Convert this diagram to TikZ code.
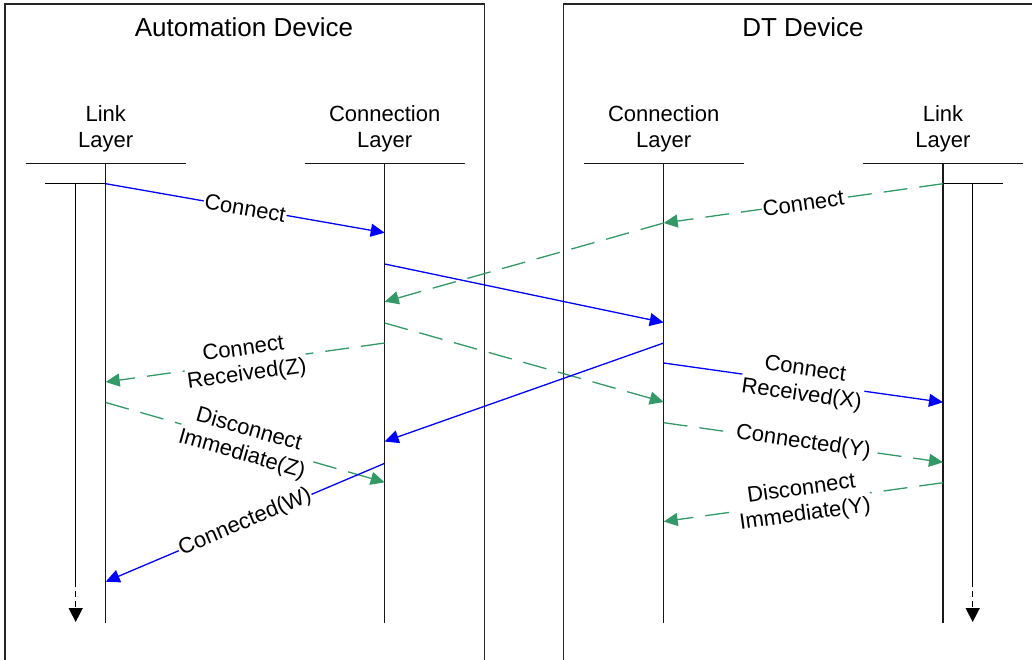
\documentclass[tikz,border=0pt]{standalone}
\usepackage{fontspec}
\setmainfont{Liberation Sans}
\usetikzlibrary{arrows.meta}
\definecolor{msgblue}{RGB}{0,0,255}
\definecolor{msggreen}{RGB}{51,153,102}
\begin{document}
\begin{tikzpicture}[x=1pt,y=-1pt,
  frame/.style={draw=black!85, line width=1.2pt},
  lifeline/.style={draw=black!90, line width=1.4pt},
  hdr/.style={align=center, inner sep=0pt, font=\fontsize{22}{25.5}\selectfont},
  ttl/.style={inner sep=0pt, font=\fontsize{26}{30}\selectfont},
  msg/.style={line width=1.3pt, -{Triangle[length=14pt,width=13pt]}},
  sync/.style={msg, draw=msgblue},
  async/.style={msg, draw=msggreen, dash pattern=on 24pt off 12pt},
  lbl/.style={sloped, fill=white, inner sep=1pt, align=center, text=black, font=\fontsize{22}{25.5}\selectfont},
  timeaxis/.style={draw=black, line width=1.4pt},
]
\useasboundingbox (0,0) rectangle (1032,659);

% device frames
\draw[frame] (5,670) -- (5,4) -- (484.5,4) -- (484.5,670);
\draw[frame] (563.5,670) -- (563.5,4) -- (1045,4);
\node[ttl] (tA) at (244,27.5) {Automation Device};
\node[ttl] (tD) at (803,27.5) {DT Device};

% headers
\node[hdr] (hLA) at (105.7,129) {Link\\Layer};
\node[hdr] (hCA) at (384.7,129) {Connection\\Layer};
\node[hdr] (hCD) at (663.7,129) {Connection\\Layer};
\node[hdr] (hLD) at (943,129) {Link\\Layer};

\draw[lifeline] (25.7,163.7) -- (185.7,163.7);
\draw[lifeline] (304.7,163.7) -- (464.7,163.7);
\draw[lifeline] (583.7,163.7) -- (743.7,163.7);
\draw[lifeline] (862.7,163.7) -- (1023.3,163.7);

% lifelines
\coordinate (LAt) at (105.7,163.7); \coordinate (LAb) at (105.7,622.5);
\coordinate (CAt) at (384.7,163.7); \coordinate (CAb) at (384.7,622.5);
\coordinate (CDt) at (663.7,163.7); \coordinate (CDb) at (663.7,622.5);
\coordinate (LDt) at (943,163.7);   \coordinate (LDb) at (943,622.5);
\draw[lifeline] (LAt) -- (LAb);
\draw[lifeline] (CAt) -- (CAb);
\draw[lifeline] (CDt) -- (CDb);
\draw[lifeline] (LDt) -- (LDb);

% local time axes
\coordinate (TAs) at (45,183.7);   \coordinate (TAe) at (105.7,183.7);
\coordinate (TAt) at (75.7,183.7); \coordinate (TAm) at (75.7,581); \coordinate (TAb) at (75.7,622);
\draw[timeaxis] (TAs) -- (TAe);
\draw[timeaxis] (TAt) -- (TAm);
\draw[timeaxis, dash pattern=on 6pt off 4pt, -{Triangle[length=14pt,width=14pt]}] (TAm) -- (TAb);

\coordinate (TDs) at (943,183.7);   \coordinate (TDe) at (1003.3,183.7);
\coordinate (TDt) at (972.7,183.7); \coordinate (TDm) at (972.7,581); \coordinate (TDb) at (972.7,622);
\draw[timeaxis] (TDs) -- (TDe);
\draw[timeaxis] (TDt) -- (TDm);
\draw[timeaxis, dash pattern=on 6pt off 4pt, -{Triangle[length=14pt,width=14pt]}] (TDm) -- (TDb);

% message end points
\coordinate (m1a) at (105.7,183.7); \coordinate (m1b) at (384.7,232.7);
\coordinate (m2a) at (943,183.7);   \coordinate (m2b) at (663.7,223);
\coordinate (m3a) at (663.7,223);   \coordinate (m3b) at (384.7,301.7);
\coordinate (m4a) at (384.7,264);   \coordinate (m4b) at (663.7,322.5);
\coordinate (m5a) at (384.7,323);   \coordinate (m5b) at (663.7,402);
\coordinate (m6a) at (384.7,343);   \coordinate (m6b) at (105.7,382);
\coordinate (m7a) at (663.7,343);   \coordinate (m7b) at (384.7,441.5);
\coordinate (m8a) at (663.7,363);   \coordinate (m8b) at (943,402.3);
\coordinate (m9a) at (105.7,402.5); \coordinate (m9b) at (384.7,482.3);
\coordinate (m10a) at (384.7,463.3); \coordinate (m10b) at (105.7,581.7);
\coordinate (m11a) at (663.7,422.7); \coordinate (m11b) at (943,462.3);
\coordinate (m12a) at (943,482.7);   \coordinate (m12b) at (663.7,521.5);

% messages
\draw[async] (m3a) -- (m3b);
\draw[sync]  (m4a) -- (m4b);
\draw[async] (m5a) -- (m5b);
\draw[sync]  (m7a) -- (m7b);
\draw[sync]  (m1a) -- node[lbl] (l1) {Connect} (m1b);
\draw[async] (m2a) -- node[lbl] (l2) {Connect} (m2b);
\draw[async] (m6a) -- node[lbl] (l6) {Connect\\Received(Z)} (m6b);
\draw[sync]  (m8a) -- node[lbl] (l8) {Connect\\Received(X)} (m8b);
\draw[async] (m9a) -- node[lbl] (l9) {Disconnect\\Immediate(Z)} (m9b);
\draw[sync]  (m10a) -- node[lbl] (l10) {Connected(W)} (m10b);
\draw[async] (m11a) -- node[lbl] (l11) {Connected(Y)} (m11b);
\draw[async] (m12a) -- node[lbl] (l12) {Disconnect\\Immediate(Y)} (m12b);
\end{tikzpicture}
\end{document}
